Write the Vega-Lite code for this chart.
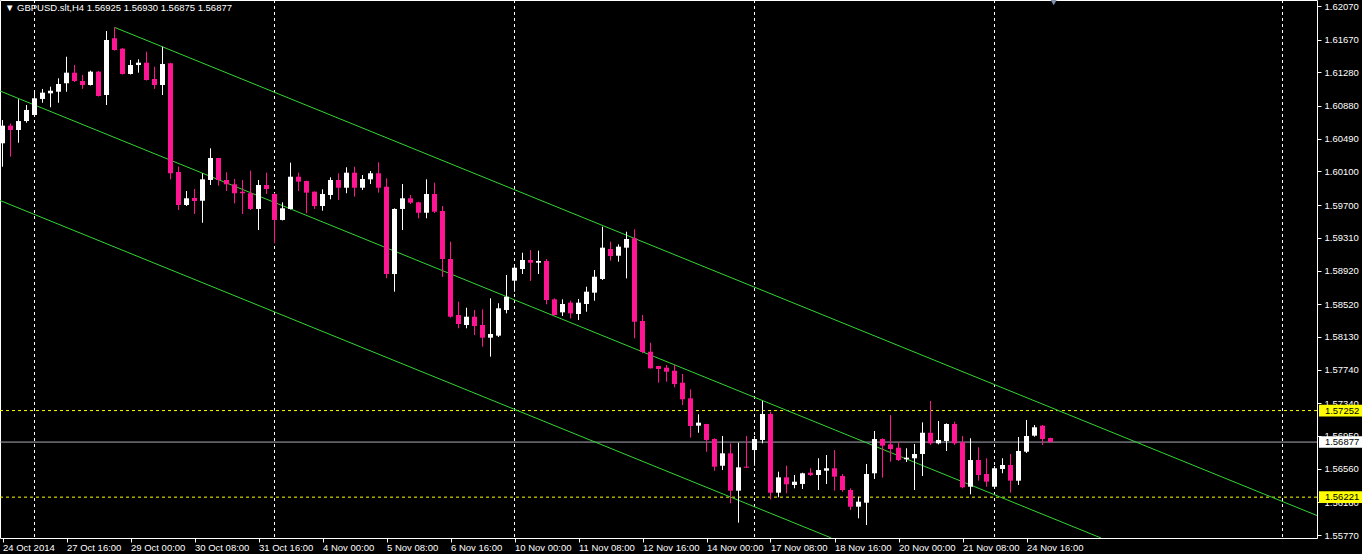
{
  "$schema": "https://vega.github.io/schema/vega-lite/v6.json",
  "width": 1317,
  "height": 538,
  "autosize": {"type": "none"},
  "padding": {"left": 0, "top": 0, "right": 45, "bottom": 16},
  "background": "#000000",
  "title": {
    "text": "▼ GBPUSD.slt,H4  1.56925 1.56930 1.56875 1.56877",
    "anchor": "start",
    "frame": "group",
    "color": "#ffffff",
    "font": "Liberation Sans",
    "fontSize": 9.5,
    "fontWeight": "normal",
    "offset": -13,
    "dx": 5
  },
  "datasets": {
    "candles": [
      {"i":0,"o":1.60435,"h":1.60712,"l":1.60156,"c":1.60645},
      {"i":1,"o":1.60645,"h":1.60671,"l":1.60275,"c":1.60593},
      {"i":2,"o":1.60593,"h":1.60959,"l":1.60442,"c":1.60700},
      {"i":3,"o":1.60700,"h":1.60891,"l":1.60680,"c":1.60832},
      {"i":4,"o":1.60772,"h":1.61046,"l":1.60760,"c":1.60971},
      {"i":5,"o":1.60963,"h":1.61082,"l":1.60918,"c":1.61038},
      {"i":6,"o":1.61030,"h":1.61109,"l":1.60864,"c":1.61061},
      {"i":7,"o":1.61049,"h":1.61209,"l":1.60918,"c":1.61141},
      {"i":8,"o":1.61150,"h":1.61466,"l":1.61049,"c":1.61276},
      {"i":9,"o":1.61276,"h":1.61367,"l":1.61165,"c":1.61177},
      {"i":10,"o":1.61177,"h":1.61248,"l":1.61082,"c":1.61129},
      {"i":11,"o":1.61129,"h":1.61300,"l":1.61123,"c":1.61288},
      {"i":12,"o":1.61288,"h":1.61296,"l":1.60992,"c":1.60998},
      {"i":13,"o":1.61010,"h":1.61772,"l":1.60891,"c":1.61665},
      {"i":14,"o":1.61686,"h":1.61816,"l":1.61538,"c":1.61546},
      {"i":15,"o":1.61562,"h":1.61570,"l":1.61254,"c":1.61260},
      {"i":16,"o":1.61260,"h":1.61427,"l":1.61254,"c":1.61367},
      {"i":17,"o":1.61367,"h":1.61435,"l":1.61276,"c":1.61395},
      {"i":18,"o":1.61395,"h":1.61526,"l":1.61183,"c":1.61189},
      {"i":19,"o":1.61201,"h":1.61347,"l":1.61082,"c":1.61129},
      {"i":20,"o":1.61129,"h":1.61585,"l":1.61010,"c":1.61379},
      {"i":21,"o":1.61388,"h":1.61395,"l":1.60006,"c":1.60078},
      {"i":22,"o":1.60093,"h":1.60159,"l":1.59641,"c":1.59700},
      {"i":23,"o":1.59700,"h":1.59867,"l":1.59688,"c":1.59780},
      {"i":24,"o":1.59784,"h":1.59891,"l":1.59593,"c":1.59748},
      {"i":25,"o":1.59751,"h":1.60078,"l":1.59489,"c":1.60006},
      {"i":26,"o":1.59998,"h":1.60375,"l":1.59938,"c":1.60260},
      {"i":27,"o":1.60260,"h":1.60262,"l":1.59930,"c":1.59998},
      {"i":28,"o":1.59998,"h":1.60090,"l":1.59867,"c":1.59947},
      {"i":29,"o":1.59947,"h":1.60010,"l":1.59720,"c":1.59840},
      {"i":30,"o":1.59859,"h":1.59998,"l":1.59593,"c":1.59840},
      {"i":31,"o":1.59840,"h":1.60109,"l":1.59641,"c":1.59653},
      {"i":32,"o":1.59653,"h":1.59998,"l":1.59402,"c":1.59938},
      {"i":33,"o":1.59938,"h":1.60085,"l":1.59831,"c":1.59891},
      {"i":34,"o":1.59831,"h":1.59840,"l":1.59244,"c":1.59522},
      {"i":35,"o":1.59522,"h":1.59732,"l":1.59516,"c":1.59661},
      {"i":36,"o":1.59653,"h":1.60204,"l":1.59647,"c":1.60037},
      {"i":37,"o":1.60037,"h":1.60085,"l":1.59867,"c":1.59978},
      {"i":38,"o":1.59986,"h":1.59990,"l":1.59601,"c":1.59847},
      {"i":39,"o":1.59859,"h":1.59862,"l":1.59653,"c":1.59688},
      {"i":40,"o":1.59688,"h":1.59887,"l":1.59632,"c":1.59831},
      {"i":41,"o":1.59819,"h":1.60030,"l":1.59768,"c":1.59998},
      {"i":42,"o":1.59998,"h":1.60078,"l":1.59760,"c":1.59906},
      {"i":43,"o":1.59906,"h":1.60149,"l":1.59840,"c":1.60085},
      {"i":44,"o":1.60085,"h":1.60156,"l":1.59799,"c":1.59906},
      {"i":45,"o":1.59906,"h":1.60057,"l":1.59879,"c":1.60010},
      {"i":46,"o":1.60006,"h":1.60105,"l":1.59950,"c":1.60078},
      {"i":47,"o":1.60078,"h":1.60209,"l":1.59847,"c":1.59906},
      {"i":48,"o":1.59918,"h":1.60018,"l":1.58827,"c":1.58878},
      {"i":49,"o":1.58878,"h":1.59661,"l":1.58668,"c":1.59653},
      {"i":50,"o":1.59653,"h":1.59950,"l":1.59402,"c":1.59780},
      {"i":51,"o":1.59780,"h":1.59819,"l":1.59712,"c":1.59728},
      {"i":52,"o":1.59732,"h":1.59739,"l":1.59542,"c":1.59608},
      {"i":53,"o":1.59608,"h":1.60006,"l":1.59542,"c":1.59831},
      {"i":54,"o":1.59831,"h":1.59966,"l":1.59605,"c":1.59620},
      {"i":55,"o":1.59629,"h":1.59688,"l":1.58843,"c":1.59057},
      {"i":56,"o":1.59057,"h":1.59263,"l":1.58358,"c":1.58370},
      {"i":57,"o":1.58390,"h":1.58549,"l":1.58232,"c":1.58283},
      {"i":58,"o":1.58271,"h":1.58477,"l":1.58232,"c":1.58370},
      {"i":59,"o":1.58370,"h":1.58450,"l":1.58152,"c":1.58259},
      {"i":60,"o":1.58271,"h":1.58458,"l":1.58013,"c":1.58120},
      {"i":61,"o":1.58120,"h":1.58589,"l":1.57894,"c":1.58164},
      {"i":62,"o":1.58144,"h":1.58530,"l":1.58128,"c":1.58470},
      {"i":63,"o":1.58450,"h":1.58867,"l":1.58410,"c":1.58608},
      {"i":64,"o":1.58799,"h":1.58986,"l":1.58668,"c":1.58953},
      {"i":65,"o":1.58938,"h":1.59132,"l":1.58878,"c":1.59045},
      {"i":66,"o":1.59045,"h":1.59164,"l":1.58795,"c":1.59013},
      {"i":67,"o":1.59013,"h":1.59156,"l":1.58878,"c":1.59033},
      {"i":68,"o":1.59033,"h":1.59057,"l":1.58518,"c":1.58569},
      {"i":69,"o":1.58577,"h":1.58589,"l":1.58384,"c":1.58390},
      {"i":70,"o":1.58422,"h":1.58577,"l":1.58378,"c":1.58521},
      {"i":71,"o":1.58537,"h":1.58560,"l":1.58351,"c":1.58410},
      {"i":72,"o":1.58402,"h":1.58581,"l":1.58331,"c":1.58537},
      {"i":73,"o":1.58521,"h":1.58727,"l":1.58429,"c":1.58668},
      {"i":74,"o":1.58656,"h":1.58926,"l":1.58560,"c":1.58846},
      {"i":75,"o":1.58819,"h":1.59442,"l":1.58807,"c":1.59192},
      {"i":76,"o":1.59176,"h":1.59263,"l":1.59037,"c":1.59093},
      {"i":77,"o":1.59096,"h":1.59232,"l":1.59025,"c":1.59204},
      {"i":78,"o":1.59192,"h":1.59382,"l":1.58827,"c":1.59295},
      {"i":79,"o":1.59304,"h":1.59411,"l":1.58113,"c":1.58310},
      {"i":80,"o":1.58319,"h":1.58390,"l":1.57934,"c":1.57950},
      {"i":81,"o":1.57953,"h":1.58060,"l":1.57753,"c":1.57755},
      {"i":82,"o":1.57783,"h":1.57785,"l":1.57584,"c":1.57747},
      {"i":83,"o":1.57763,"h":1.57795,"l":1.57596,"c":1.57715},
      {"i":84,"o":1.57727,"h":1.57795,"l":1.57529,"c":1.57568},
      {"i":85,"o":1.57584,"h":1.57688,"l":1.57318,"c":1.57386},
      {"i":86,"o":1.57398,"h":1.57505,"l":1.56929,"c":1.57068},
      {"i":87,"o":1.57072,"h":1.57208,"l":1.56988,"c":1.57108},
      {"i":88,"o":1.57092,"h":1.57094,"l":1.56762,"c":1.56902},
      {"i":89,"o":1.56913,"h":1.56922,"l":1.56536,"c":1.56584},
      {"i":90,"o":1.56595,"h":1.56949,"l":1.56544,"c":1.56743},
      {"i":91,"o":1.56743,"h":1.56862,"l":1.56148,"c":1.56298},
      {"i":92,"o":1.56298,"h":1.56869,"l":1.55917,"c":1.56576},
      {"i":93,"o":1.56584,"h":1.56949,"l":1.56568,"c":1.56572},
      {"i":94,"o":1.56782,"h":1.56949,"l":1.56595,"c":1.56913},
      {"i":95,"o":1.56902,"h":1.57366,"l":1.56862,"c":1.57211},
      {"i":96,"o":1.57211,"h":1.57239,"l":1.56195,"c":1.56274},
      {"i":97,"o":1.56274,"h":1.56524,"l":1.56219,"c":1.56457},
      {"i":98,"o":1.56457,"h":1.56595,"l":1.56267,"c":1.56374},
      {"i":99,"o":1.56366,"h":1.56485,"l":1.56326,"c":1.56405},
      {"i":100,"o":1.56378,"h":1.56512,"l":1.56318,"c":1.56505},
      {"i":101,"o":1.56512,"h":1.56565,"l":1.56473,"c":1.56485},
      {"i":102,"o":1.56485,"h":1.56684,"l":1.56306,"c":1.56544},
      {"i":103,"o":1.56536,"h":1.56723,"l":1.56378,"c":1.56565},
      {"i":104,"o":1.56565,"h":1.56782,"l":1.56298,"c":1.56465},
      {"i":105,"o":1.56473,"h":1.56497,"l":1.56286,"c":1.56306},
      {"i":106,"o":1.56306,"h":1.56326,"l":1.56068,"c":1.56107},
      {"i":107,"o":1.56107,"h":1.56226,"l":1.55969,"c":1.56167},
      {"i":108,"o":1.56155,"h":1.56616,"l":1.55889,"c":1.56497},
      {"i":109,"o":1.56505,"h":1.57009,"l":1.56437,"c":1.56913},
      {"i":110,"o":1.56913,"h":1.56922,"l":1.56453,"c":1.56834},
      {"i":111,"o":1.56850,"h":1.57199,"l":1.56643,"c":1.56794},
      {"i":112,"o":1.56810,"h":1.56874,"l":1.56651,"c":1.56663},
      {"i":113,"o":1.56672,"h":1.56803,"l":1.56640,"c":1.56691},
      {"i":114,"o":1.56684,"h":1.56854,"l":1.56306,"c":1.56735},
      {"i":115,"o":1.56735,"h":1.57112,"l":1.56473,"c":1.56988},
      {"i":116,"o":1.56988,"h":1.57366,"l":1.56842,"c":1.56862},
      {"i":117,"o":1.56862,"h":1.57128,"l":1.56850,"c":1.56902},
      {"i":118,"o":1.56890,"h":1.57100,"l":1.56771,"c":1.57092},
      {"i":119,"o":1.57092,"h":1.57120,"l":1.56842,"c":1.56862},
      {"i":120,"o":1.56874,"h":1.56949,"l":1.56326,"c":1.56338},
      {"i":121,"o":1.56345,"h":1.56922,"l":1.56255,"c":1.56663},
      {"i":122,"o":1.56663,"h":1.56815,"l":1.56417,"c":1.56485},
      {"i":123,"o":1.56497,"h":1.56684,"l":1.56345,"c":1.56405},
      {"i":124,"o":1.56345,"h":1.56592,"l":1.56330,"c":1.56565},
      {"i":125,"o":1.56556,"h":1.56684,"l":1.56505,"c":1.56604},
      {"i":126,"o":1.56604,"h":1.56735,"l":1.56274,"c":1.56417},
      {"i":127,"o":1.56417,"h":1.56937,"l":1.56366,"c":1.56771},
      {"i":128,"o":1.56762,"h":1.57140,"l":1.56747,"c":1.56949},
      {"i":129,"o":1.56953,"h":1.57080,"l":1.56941,"c":1.57053},
      {"i":130,"o":1.57072,"h":1.57080,"l":1.56842,"c":1.56913},
      {"i":131,"o":1.56925,"h":1.56930,"l":1.56875,"c":1.56877}
    ],
    "grid": [{"i":4},{"i":34},{"i":64},{"i":94},{"i":124},{"i":160}],
    "levels": [{"p":1.57252},{"p":1.56221}],
    "bid": [{"p":1.56877}],
    "channel": [
      {"line":"upper","i":14,"p":1.61816},
      {"line":"upper","i":164.3125,"p":1.56002},
      {"line":"middle","i":-0.3125,"p":1.61058},
      {"line":"middle","i":137.31,"p":1.55735},
      {"line":"lower","i":-0.3125,"p":1.59754},
      {"line":"lower","i":103.6,"p":1.55735}
    ],
    "tags": [
      {"p":1.57252,"t":"1.57252","kind":"hline"},
      {"p":1.56877,"t":"1.56877","kind":"bid"},
      {"p":1.56221,"t":"1.56221","kind":"hline"}
    ],
    "shift": [{"i":131.4,"p":1.62112}]
  },
  "layer": [
    {
      "data": {"name": "candles"},
      "mark": {"type": "bar", "opacity": 0},
      "encoding": {
        "x": {
          "field": "i", "type": "quantitative", "title": null,
          "scale": {"domain": [-0.3125, 164.3125], "nice": false, "zero": false, "padding": 0},
          "axis": {
            "values": [0, 8, 16, 24, 32, 40, 48, 56, 64, 72, 80, 88, 96, 104, 112, 120, 128],
            "tickCount": 40,
            "labelExpr": "['24 Oct 2014','27 Oct 16:00','29 Oct 00:00','30 Oct 08:00','31 Oct 16:00','4 Nov 00:00','5 Nov 08:00','6 Nov 16:00','10 Nov 00:00','11 Nov 08:00','12 Nov 16:00','14 Nov 00:00','17 Nov 08:00','18 Nov 16:00','20 Nov 00:00','21 Nov 08:00','24 Nov 16:00'][round(datum.value/8)]",
            "title": null, "domain": false, "grid": false,
            "tickColor": "#ffffff", "tickSize": 4,
            "labelColor": "#ffffff", "labelFont": "Liberation Sans", "labelFontSize": 9.5,
            "labelAlign": "left", "labelBaseline": "top", "labelPadding": 0, "labelDx": 1,
            "labelOverlap": false, "labelFlush": false, "labelBound": false
          }
        },
        "y": {
          "field": "o", "type": "quantitative", "title": null,
          "scale": {"domain": [1.557345, 1.621415], "nice": false, "zero": false},
          "axis": {
            "orient": "right",
            "values": [1.62070, 1.61670, 1.61280, 1.60880, 1.60490, 1.60100, 1.59700, 1.59310, 1.58920, 1.58520, 1.58130, 1.57740, 1.57340, 1.56950, 1.56560, 1.56160, 1.55770],
            "tickCount": 40,
            "format": ".5f", "title": null, "domain": false, "grid": false,
            "tickColor": "#ffffff", "tickSize": 4,
            "labelColor": "#ffffff", "labelFont": "Liberation Sans", "labelFontSize": 9.5,
            "labelPadding": 3, "labelOverlap": false, "labelSeparation": 0, "labelFlush": false, "labelBound": false
          }
        },
        "y2": {"field": "c"},
        "size": {"value": 5}
      }
    },
    {
      "data": {"name": "grid"},
      "mark": {"type": "rule", "color": "#ffffff", "strokeWidth": 1, "strokeDash": [3, 3]},
      "encoding": {
        "x": {"field": "i", "type": "quantitative", "title": null}
      }
    },
    {
      "data": {"name": "levels"},
      "mark": {"type": "rule", "color": "#ffff00", "strokeWidth": 1, "strokeDash": [3, 3]},
      "encoding": {
        "y": {"field": "p", "type": "quantitative", "title": null}
      }
    },
    {
      "data": {"name": "bid"},
      "mark": {"type": "rule", "color": "#a8aab8", "strokeWidth": 1},
      "encoding": {
        "y": {"field": "p", "type": "quantitative", "title": null}
      }
    },
    {
      "data": {"name": "channel"},
      "mark": {"type": "line", "color": "#33d633", "strokeWidth": 1, "clip": true},
      "encoding": {
        "x": {"field": "i", "type": "quantitative", "title": null},
        "y": {"field": "p", "type": "quantitative", "title": null},
        "detail": {"field": "line"}
      }
    },
    {
      "data": {"name": "candles"},
      "mark": {"type": "rule", "strokeWidth": 1},
      "encoding": {
        "x": {"field": "i", "type": "quantitative", "title": null},
        "y": {"field": "l", "type": "quantitative", "title": null},
        "y2": {"field": "h"},
        "color": {"condition": {"test": "datum.c >= datum.o", "value": "#ffffff"}, "value": "#ff1493"}
      }
    },
    {
      "data": {"name": "candles"},
      "mark": {"type": "bar"},
      "encoding": {
        "x": {"field": "i", "type": "quantitative", "title": null},
        "y": {"field": "o", "type": "quantitative", "title": null},
        "y2": {"field": "c"},
        "size": {"value": 5},
        "color": {"condition": {"test": "datum.c >= datum.o", "value": "#ffffff"}, "value": "#ff1493"}
      }
    },
    {
      "data": {"name": "tags"},
      "mark": {"type": "point", "filled": true, "opacity": 1, "shape": "M-1,-0.27L1,-0.27L1,0.27L-1,0.27Z", "size": 1849},
      "encoding": {
        "x": {"datum": 167.25, "type": "quantitative", "title": null},
        "y": {"field": "p", "type": "quantitative", "title": null},
        "color": {"condition": {"test": "datum.kind == 'bid'", "value": "#ffffff"}, "value": "#ffff00"}
      }
    },
    {
      "data": {"name": "tags"},
      "mark": {"type": "text", "align": "left", "baseline": "middle", "color": "#000000", "font": "Liberation Sans", "fontSize": 9.5},
      "encoding": {
        "x": {"datum": 165.3, "type": "quantitative", "title": null},
        "y": {"field": "p", "type": "quantitative", "title": null},
        "text": {"field": "t"}
      }
    },
    {
      "data": {"name": "shift"},
      "mark": {"type": "point", "filled": true, "opacity": 1, "shape": "triangle-down", "size": 40, "color": "#8090a8"},
      "encoding": {
        "x": {"field": "i", "type": "quantitative", "title": null},
        "y": {"field": "p", "type": "quantitative", "title": null}
      }
    }
  ],
  "config": {
    "view": {"stroke": "#ffffff", "strokeWidth": 1},
    "axis": {"zindex": 0, "labelOverlap": false, "labelSeparation": 0}
  }
}
